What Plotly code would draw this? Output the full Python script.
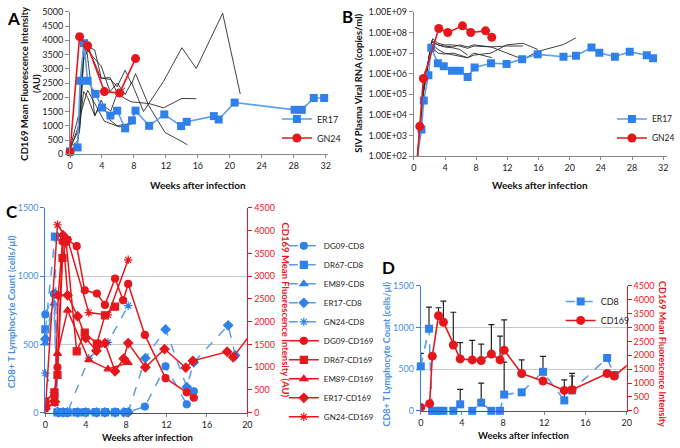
import plotly.graph_objects as go

W, H = 680, 448
FONT = "Lato, Liberation Sans, Arial"
BLUE = "#2f80ea"
BLUE_L = "#5c9de8"
RED = "#e5171d"
BLK = "#2a2a2a"

# ---------------- Panel A : CD169 MFI ----------------
a_er17_wk = [0, 0.95, 1.27, 1.75, 2.2, 3.2, 4.0, 5.05, 5.9, 6.9, 7.75, 8.2, 9.9, 11.8, 13.9, 14.6, 18.0, 18.6, 20.6, 28.1, 29.0, 30.5, 31.8]
a_er17_val = [100, 240, 2580, 3900, 2580, 2120, 1640, 1360, 1530, 910, 1190, 1530, 1000, 1400, 990, 1140, 1340, 1220, 1815, 1560, 1560, 1975, 1975]
a_gn24_wk = [0, 1.2, 2.2, 4.3, 6.2, 8.2]
a_gn24_val = [80, 4130, 3810, 2200, 2150, 3360]

a_x1_wk = [0, 1.2, 1.7, 2.2, 3.1, 3.9, 5.0, 5.9, 6.9, 7.7, 9.2, 11.7, 14.0, 15.8, 19.1, 21.3]
a_x1_val = [150, 1100, 3300, 3650, 3350, 3100, 2200, 2500, 2100, 2520, 1500, 2560, 3740, 3010, 4950, 2120]
a_x2_wk = [0, 1.2, 1.7, 2.2, 3.1, 3.9, 5.0, 5.9, 6.9, 7.7, 9.9, 11.7, 14.0, 15.8]
a_x2_val = [200, 1500, 3800, 3700, 3200, 2650, 2700, 2150, 1950, 1840, 1780, 1630, 1960, 1950]
a_x3_wk = [0, 1.2, 1.7, 2.2, 3.1, 3.9, 5.0, 5.9, 6.9, 7.7]
a_x3_val = [250, 900, 2200, 2000, 1350, 1900, 1200, 1000, 1050, 1100]

# ---------------- Panel B : viral load ----------------
b_er17_wk = [0.35, 0.97, 1.27, 1.86, 2.24, 3.08, 3.84, 4.9, 5.9, 6.9, 7.8, 9.9, 11.9, 13.9, 15.9, 19.2, 20.8, 22.8, 23.8, 25.8, 27.7, 29.9, 30.7]
b_er17_val = [50, 1950, 5.0e4, 8.5e5, 1.8e7, 3.2e6, 2.3e6, 1.4e6, 1.4e6, 6.9e5, 2.0e6, 3.2e6, 3.0e6, 5.0e6, 8.7e6, 6.7e6, 7.4e6, 1.85e7, 1.05e7, 6.7e6, 1.15e7, 7.8e6, 5.6e6]
b_gn24_wk = [0.4, 0.76, 1.22, 3.2, 4.35, 6.24, 7.3, 9.2, 10.0]
b_gn24_val = [50, 2800, 5.9e5, 1.56e8, 1.0e8, 2.1e8, 1.0e8, 1.2e8, 5.9e7]

b_k1_wk = [0.4, 1.2, 2.3, 3.1, 3.9, 5.0, 5.9, 6.9]
b_k1_val = [50, 1.5e5, 4.0e7, 2.5e7, 2.0e7, 1.8e7, 1.5e7, 8.0e6]
b_k2_wk = [0.4, 1.2, 2.2, 3.1, 3.9, 5.0, 5.9, 6.9, 7.7, 10.0]
b_k2_val = [50, 1.0e5, 3.0e7, 1.5e7, 1.0e7, 8.0e6, 7.0e6, 6.0e6, 1.0e7, 6.0e6]
b_k3_wk = [0.4, 1.2, 2.4, 3.1, 3.9, 5.0, 5.9, 6.9, 7.7, 9.9, 11.9, 14.0]
b_k3_val = [50, 2.0e5, 5.0e7, 3.0e7, 2.5e7, 2.5e7, 2.2e7, 1.7e7, 2.2e7, 2.0e7, 2.2e7, 2.2e7]
b_k4_wk = [0.4, 1.2, 2.2, 3.1, 3.9, 5.0, 5.9, 6.9, 7.7, 9.9, 11.9, 14.0, 15.9]
b_k4_val = [50, 1.0e5, 2.0e7, 1.0e7, 9.0e6, 1.0e7, 8.0e6, 6.0e6, 8.0e6, 1.0e7, 2.5e7, 3.0e7, 1.5e7]
b_k5_wk = [0.4, 1.2, 2.3, 3.1, 3.9, 5.0, 5.9, 6.9, 7.7, 9.9, 14.0, 15.9, 19.2, 20.8]
b_k5_val = [50, 1.2e5, 3.5e7, 2.5e7, 2.2e7, 2.0e7, 2.5e7, 2.0e7, 2.5e7, 2.0e7, 5.0e6, 1.2e7, 2.6e7, 5.5e7]

b_tickvals = [1e2, 1e3, 1e4, 1e5, 1e6, 1e7, 1e8, 1e9]
b_ticktext = ["1.00E+02", "1.00E+03", "1.00E+04", "1.00E+05", "1.00E+06", "1.00E+07", "1.00E+08", "1.00E+09"]

# ---------------- Panel C : per animal ----------------
c_dg09_cd8_wk = [0, 0.85, 1.2, 1.5, 2.0, 3.0, 3.9, 4.9, 5.9, 7.0, 7.9, 8.2, 9.85, 11.9, 14.0, 14.7]
c_dg09_cd8 = [720, 870, 5, 5, 5, 5, 5, 5, 5, 5, 5, 5, 45, 340, 62, 157]
c_dr67_cd8_wk = [0, 0.95, 1.2, 1.7, 2.2, 3.1, 3.9, 5.0, 5.9, 6.9]
c_dr67_cd8 = [610, 1290, 3, 3, 3, 3, 3, 3, 3, 3]
c_em89_cd8_wk = [0, 0.85, 1.2, 2.2, 4.3, 6.2, 8.2]
c_em89_cd8 = [510, 800, 5, 8, 4, 4, 5]
c_er17_cd8_wk = [0, 0.95, 1.27, 1.75, 2.2, 3.2, 4.0, 5.05, 5.9, 6.9, 7.75, 8.2, 9.9, 11.9, 14.0, 14.7, 18.1, 18.8]
c_er17_cd8 = [540, 870, 3, 3, 3, 3, 3, 3, 3, 3, 3, 3, 400, 610, 188, 370, 640, 420]
c_gn24_cd8_wk = [0, 0.8, 1.2, 2.2, 4.3, 6.2, 8.2]
c_gn24_cd8 = [290, 150, 3, 3, 400, 515, 785]

c_dg09_169_wk = [0, 0.9, 1.2, 1.7, 2.2, 3.1, 3.9, 5.1, 5.9, 6.9, 7.7, 8.2, 9.85, 11.9, 14.0, 14.7]
c_dg09_169 = [150, 350, 1000, 3760, 3800, 3660, 2690, 2620, 2370, 2950, 2470, 2830, 1710, 760, 450, 330]
c_dr67_169_wk = [0, 0.9, 1.2, 1.7, 2.05, 3.1, 3.9, 5.1, 5.9, 6.9]
c_dr67_169 = [250, 450, 830, 3400, 3760, 1350, 1760, 1520, 2140, 2330]
c_em89_169_wk = [0, 0.9, 1.2, 2.2, 4.3, 6.2, 8.2]
c_em89_169 = [100, 200, 1300, 2250, 1160, 960, 1100]

# ---------------- Panel D : means ----------------
d_cd8_wk = [0, 0.8, 1.1, 1.5, 1.9, 2.2, 3.16, 3.83, 5.0, 5.87, 6.86, 7.7, 8.1, 9.8, 11.87, 13.94, 14.7, 18.1, 18.8]
d_cd8 = [534, 986, 0, 0, 0, 0, 0, 78, 0, 97, 0, 0, 195, 222, 468, 125, 245, 635, 430]
d_cd8_err = [157, 260, None, None, None, None, None, 180, None, 235, None, None, 390, None, 185, 246, 173, None, None]
d_169_wk = [0, 0.86, 1.12, 1.72, 2.2, 3.16, 3.83, 5.0, 5.87, 6.86, 7.7, 8.1, 9.8, 11.87, 13.94, 14.7, 18.1, 18.8, 20.6]
d_169 = [117, 257, 1970, 3425, 3191, 2373, 1870, 1835, 1812, 2045, 1835, 2186, 1344, 1075, 736, 760, 1344, 1250, 1815]
d_169_err = [None, None, None, 290, 760, 1180, 590, 700, 590, 1060, 860, 1090, 495, None, None, 587, None, None, None]

fig = go.Figure()

# ---- A traces
for wk, val in [(c_dg09_169_wk, c_dg09_169), (c_dr67_169_wk, c_dr67_169), (c_em89_169_wk, c_em89_169),
                (a_x1_wk, a_x1_val), (a_x2_wk, a_x2_val), (a_x3_wk, a_x3_val)]:
    fig.add_trace(go.Scatter(x=wk, y=val, mode="lines", line=dict(color=BLK, width=0.9),
                             showlegend=False, xaxis="x", yaxis="y", hoverinfo="skip"))
fig.add_trace(go.Scatter(x=a_er17_wk, y=a_er17_val, name="ER17", mode="lines+markers",
                         line=dict(color=BLUE_L, width=1.6), marker=dict(symbol="square", size=8, color=BLUE),
                         xaxis="x", yaxis="y", legend="legend", cliponaxis=False))
fig.add_trace(go.Scatter(x=a_gn24_wk, y=a_gn24_val, name="GN24", mode="lines+markers",
                         line=dict(color=RED, width=1.6), marker=dict(symbol="circle", size=9, color=RED),
                         xaxis="x", yaxis="y", legend="legend", cliponaxis=False))

# ---- B traces
for wk, val in [(b_k1_wk, b_k1_val), (b_k2_wk, b_k2_val), (b_k3_wk, b_k3_val), (b_k4_wk, b_k4_val), (b_k5_wk, b_k5_val)]:
    fig.add_trace(go.Scatter(x=wk, y=val, mode="lines", line=dict(color=BLK, width=0.9),
                             showlegend=False, xaxis="x2", yaxis="y2", hoverinfo="skip"))
fig.add_trace(go.Scatter(x=b_er17_wk, y=b_er17_val, name="ER17", mode="lines+markers",
                         line=dict(color=BLUE_L, width=1.6), marker=dict(symbol="square", size=8, color=BLUE),
                         xaxis="x2", yaxis="y2", legend="legend2"))
fig.add_trace(go.Scatter(x=b_gn24_wk, y=b_gn24_val, name="GN24", mode="lines+markers",
                         line=dict(color=RED, width=1.6), marker=dict(symbol="circle", size=9, color=RED),
                         xaxis="x2", yaxis="y2", legend="legend2"))

# ---- C traces
cd8_series = [("DG09-CD8", c_dg09_cd8_wk, c_dg09_cd8, "circle"),
              ("DR67-CD8", c_dr67_cd8_wk, c_dr67_cd8, "square"),
              ("EM89-CD8", c_em89_cd8_wk, c_em89_cd8, "triangle-up"),
              ("ER17-CD8", c_er17_cd8_wk, c_er17_cd8, "diamond"),
              ("GN24-CD8", c_gn24_cd8_wk, c_gn24_cd8, "asterisk-open")]
for name, wk, val, sym in cd8_series:
    fig.add_trace(go.Scatter(x=wk, y=val, name=name, mode="lines+markers",
                             line=dict(color=BLUE_L, width=1.5, dash="dash"),
                             marker=dict(symbol=sym, size=7, color=BLUE, line=dict(color=BLUE, width=1.2)),
                             xaxis="x3", yaxis="y3", legend="legend3", cliponaxis=False))
c169_series = [("DG09-CD169", c_dg09_169_wk, c_dg09_169, "circle"),
               ("DR67-CD169", c_dr67_169_wk, c_dr67_169, "square"),
               ("EM89-CD169", c_em89_169_wk, c_em89_169, "triangle-up"),
               ("ER17-CD169", a_er17_wk, a_er17_val, "diamond"),
               ("GN24-CD169", a_gn24_wk, a_gn24_val, "asterisk-open")]
for name, wk, val, sym in c169_series:
    fig.add_trace(go.Scatter(x=wk, y=val, name=name, mode="lines+markers",
                             line=dict(color=RED, width=1.5),
                             marker=dict(symbol=sym, size=7, color=RED, line=dict(color=RED, width=1.2)),
                             xaxis="x3", yaxis="y4", legend="legend3"))

# ---- D traces
fig.add_trace(go.Scatter(x=d_cd8_wk, y=d_cd8, name="CD8", mode="lines+markers",
                         line=dict(color=BLUE_L, width=1.6, dash="dash"),
                         marker=dict(symbol="square", size=8, color=BLUE),
                         error_y=dict(type="data", array=d_cd8_err, arrayminus=[0] * len(d_cd8_err), symmetric=False,
                                      color="#222", thickness=1.2, width=3),
                         xaxis="x4", yaxis="y5", legend="legend4", cliponaxis=False))
fig.add_trace(go.Scatter(x=d_169_wk, y=d_169, name="CD169", mode="lines+markers",
                         line=dict(color=RED, width=1.6),
                         marker=dict(symbol="circle", size=9, color=RED),
                         error_y=dict(type="data", array=d_169_err, arrayminus=[0] * len(d_169_err), symmetric=False,
                                      color="#222", thickness=1.2, width=3),
                         xaxis="x4", yaxis="y6", legend="legend4"))


def px(p):
    return p / W


def py(p):
    return 1 - p / H


tickfont = dict(family=FONT, size=9, color="#222")
base_x = dict(ticks="outside", ticklen=3, tickcolor="#888", showline=True, linecolor="#888", linewidth=1,
              showgrid=False, zeroline=False, tickfont=tickfont)
base_y = dict(ticks="outside", ticklen=4, tickcolor="#888", showline=True, linecolor="#888", linewidth=1,
              showgrid=False, zeroline=False, tickfont=tickfont)

week_ticks32 = list(range(0, 33, 4))
week_ticks20 = list(range(0, 21, 4))

leg_common = dict(xanchor="left", yanchor="top", bgcolor="rgba(0,0,0,0)", itemwidth=30)

fig.update_layout(
    width=W, height=H, margin=dict(l=0, r=0, t=0, b=0), autosize=False,
    paper_bgcolor="white", plot_bgcolor="white",
    font=dict(family=FONT, size=9, color="#222"),
    xaxis=dict(base_x, domain=[px(68), px(330)], range=[0, 32.3], tickvals=week_ticks32, anchor="y"),
    yaxis=dict(base_y, domain=[py(152), py(6)], range=[0, 5000], dtick=500, anchor="x"),
    xaxis2=dict(base_x, domain=[px(417), px(674)], range=[0, 32.5], tickvals=week_ticks32, anchor="y2"),
    yaxis2=dict(base_y, domain=[py(154), py(6)], type="log", range=[2, 9], tickvals=b_tickvals,
                ticktext=b_ticktext, anchor="x2"),
    xaxis3=dict(base_x, domain=[px(43), px(248)], range=[0, 20], tickvals=week_ticks20, anchor="y3",
                linecolor="#555"),
    yaxis3=dict(base_y, domain=[py(417), py(207)], range=[0, 1500], dtick=500, anchor="x3",
                linecolor=BLUE, tickcolor=BLUE, tickfont=dict(family=FONT, size=9, color="#4a90e2"),
                showgrid=True, gridcolor="#c8c8c8", gridwidth=1),
    yaxis4=dict(base_y, range=[0, 4500], dtick=500, anchor="x3", overlaying="y3", side="right",
                linecolor=RED, tickcolor=RED, tickfont=dict(family=FONT, size=9, color=RED)),
    xaxis4=dict(base_x, domain=[px(424), px(633)], range=[0, 20], tickvals=week_ticks20, anchor="y5",
                linecolor="#555"),
    yaxis5=dict(base_y, domain=[py(415), py(287)], range=[0, 1500], dtick=500, anchor="x4",
                linecolor=BLUE, tickcolor=BLUE, tickfont=dict(family=FONT, size=9, color="#4a90e2"),
                showgrid=True, gridcolor="#c8c8c8", gridwidth=1),
    yaxis6=dict(base_y, range=[0, 4500], dtick=500, anchor="x4", overlaying="y5", side="right",
                linecolor=RED, tickcolor=RED, tickfont=dict(family=FONT, size=9, color=RED)),
    legend=dict(leg_common, x=px(278), y=py(101), font=dict(family=FONT, size=9, color="#222")),
    legend2=dict(leg_common, x=px(618), y=py(101), font=dict(family=FONT, size=8.5, color="#222")),
    legend3=dict(leg_common, x=px(285), y=py(231), font=dict(family=FONT, size=8, color="#222")),
    legend4=dict(leg_common, x=px(566), y=py(288), font=dict(family=FONT, size=9, color="#222")),
)

bold = dict(family=FONT, size=10, color="#111")
bold_s = dict(family=FONT, size=9.5, color="#111")
ann = [
    dict(text="<b>A</b>", x=px(2), y=py(13), xanchor="left", yanchor="middle", font=dict(family=FONT, size=17, color="#000")),
    dict(text="<b>B</b>", x=px(342), y=py(11), xanchor="left", yanchor="middle", font=dict(family=FONT, size=17, color="#000")),
    dict(text="<b>C</b>", x=px(1), y=py(211), xanchor="left", yanchor="middle", font=dict(family=FONT, size=17, color="#000")),
    dict(text="<b>D</b>", x=px(383), y=py(268), xanchor="left", yanchor="middle", font=dict(family=FONT, size=17, color="#000")),
    dict(text="<b>Weeks after infection</b>", x=px(198), y=py(183), xanchor="center", yanchor="middle", font=bold),
    dict(text="<b>Weeks after infection</b>", x=px(545), y=py(183), xanchor="center", yanchor="middle", font=bold),
    dict(text="<b>Weeks after infection</b>", x=px(147), y=py(442), xanchor="center", yanchor="middle", font=bold_s),
    dict(text="<b>Weeks after infection</b>", x=px(528), y=py(440), xanchor="center", yanchor="middle", font=bold_s),
    dict(text="<b>CD169 Mean Fluorescence Intensity<br>(AU)</b>", x=px(27), y=py(80), textangle=-90,
         xanchor="center", yanchor="middle", font=dict(family=FONT, size=9.5, color="#111")),
    dict(text="<b>SIV Plasma Viral RNA (copies/ml)</b>", x=px(360), y=py(79), textangle=-90,
         xanchor="center", yanchor="middle", font=dict(family=FONT, size=9.5, color="#111")),
    dict(text="<b>CD8+ T Lymphocyte Count (cells/µl)</b>", x=px(8), y=py(313), textangle=-90,
         xanchor="center", yanchor="middle", font=dict(family=FONT, size=9.5, color="#4a90e2")),
    dict(text="<b>CD169 Mean Fluorescence Intensity (AU)</b>", x=px(287), y=py(312), textangle=90,
         xanchor="center", yanchor="middle", font=dict(family=FONT, size=9.5, color=RED)),
    dict(text="<b>CD8+ T Lymphocyte Count (cells/µl)</b>", x=px(389), y=py(357), textangle=-90,
         xanchor="center", yanchor="middle", font=dict(family=FONT, size=9, color="#4a90e2")),
    dict(text="<b>CD169 Mean Fluorescence Intensity</b>", x=px(670), y=py(357), textangle=90,
         xanchor="center", yanchor="middle", font=dict(family=FONT, size=9, color=RED)),
]
for a in ann:
    a.update(xref="paper", yref="paper", showarrow=False)
fig.update_layout(annotations=ann)

fig.write_html("out.html", config={"displayModeBar": False},
               post_script="document.body.style.margin='0';document.body.style.padding='0';")
